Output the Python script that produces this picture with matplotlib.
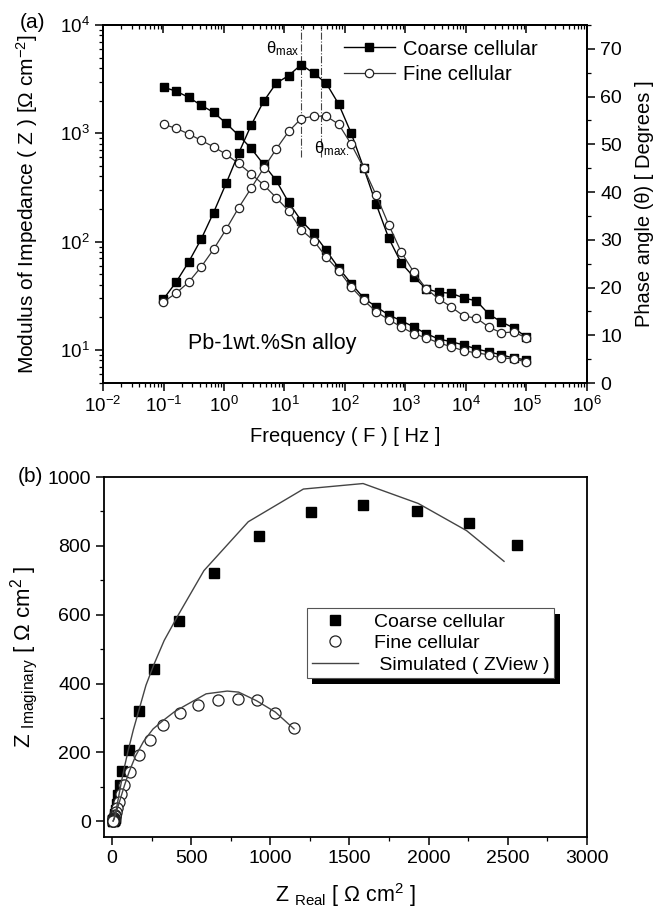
import numpy as np
import matplotlib
matplotlib.use('Agg')
import matplotlib.pyplot as plt
import matplotlib.patheffects as pe
from matplotlib.ticker import MultipleLocator, LogLocator, NullFormatter

plt.rcParams['font.family'] = ['Liberation Sans', 'DejaVu Sans']
plt.rcParams['mathtext.default'] = 'regular'
plt.rcParams['font.size'] = 13.5

# (a) Bode data, frequency in Hz (low -> high)
freq = [0.1, 0.161, 0.259, 0.418, 0.672, 1.083, 1.743, 2.807, 4.52, 7.279,
        11.72, 18.87, 30.39, 48.94, 78.8, 126.9, 204.3, 329, 530, 853,
        1374, 2212, 3562, 5736, 9237, 14874, 23950, 38570, 62110, 100000]
coarse_mod = [2667, 2449, 2154, 1815, 1563, 1238, 958, 726, 516, 367,
              230, 156, 119, 83, 57, 41, 30, 25, 21, 18.6,
              16.3, 14.1, 12.6, 11.9, 11.1, 10.2, 9.6, 9.0, 8.4, 8.1]
fine_mod = [1211, 1112, 989, 861, 750, 640, 527, 422, 334, 255,
            192, 129, 102, 72, 54, 38, 28.7, 22.5, 19, 16.3,
            14.1, 12.9, 11.6, 10.7, 9.8, 9.4, 9.0, 8.4, 8.3, 7.7]
coarse_phase = [17.6, 21.1, 25.3, 30.1, 35.7, 41.8, 48.1, 54.0, 59.0, 62.8,
                64.4, 66.7, 64.9, 62.8, 58.4, 52.3, 45.0, 37.4, 30.3, 25.1,
                22.2, 19.7, 19.0, 18.8, 17.8, 17.2, 14.4, 12.8, 11.5, 9.6]
fine_phase = [17.0, 18.8, 21.1, 24.3, 28.0, 32.2, 36.7, 40.8, 45.0, 49.0,
              52.7, 55.4, 55.9, 55.9, 54.2, 50.0, 45.0, 39.3, 33.1, 27.4,
              23.2, 19.7, 17.6, 15.9, 14.0, 13.6, 11.7, 10.5, 10.7, 9.4]
theta_max_freq = [18.87, 40.0]

# (b) Nyquist data
coarse_re = [2557, 2257, 1925, 1588, 1255, 929, 646, 423, 265, 172,
             106, 66, 53, 40, 31, 25, 21, 19.5, 18, 16.8,
             15.1, 13.3, 11.9, 11.3, 10.6, 9.7, 9.3, 8.8, 8.2, 8.0]
coarse_im = [803, 865, 902, 919, 897, 829, 720, 582, 443, 320,
             208, 145, 106, 75, 49, 32, 21, 15, 10.6, 7.9,
             6.2, 4.8, 4.1, 3.8, 3.4, 3.0, 2.4, 2.0, 1.7, 1.3]
fine_re = [1151, 1032, 913, 794, 667, 542, 429, 325, 238, 172,
           114, 79, 58, 44, 33, 26, 21, 18, 16, 14.5,
           13, 12, 11, 10.3, 9.6, 9.2, 8.8, 8.3, 8.1, 7.6]
fine_im = [271, 315, 353, 356, 353, 338, 314, 278, 237, 191,
           143, 106, 78, 55, 38, 27, 19, 14, 10.5, 8,
           6.5, 5.2, 4.3, 3.6, 2.9, 2.6, 2.2, 1.8, 1.6, 1.3]
sim_coarse_re = [7.5, 9, 12, 16, 22, 30, 42, 58, 78, 100, 135, 172, 215, 265,
                 330, 420, 581, 861, 1209, 1586, 1935, 2240, 2476]
sim_coarse_im = [0.5, 2, 5, 11, 22, 40, 70, 110, 155, 200, 265, 325, 395, 455,
                 525, 600, 728, 870, 965, 981, 923, 844, 755]
sim_fine_re = [7.5, 9, 12, 16, 22, 30, 42, 58, 80, 110, 150, 200, 260, 325,
               395, 463, 595, 728, 800, 913, 1032, 1150]
sim_fine_im = [0.5, 2, 5, 10, 18, 30, 48, 72, 105, 145, 190, 232, 268, 293,
               318, 336, 370, 378, 375, 350, 317, 268]

W, H = 657, 909
fig = plt.figure(figsize=(W / 100, H / 100), dpi=100)

# ---------- panel (a) ----------
ax = fig.add_axes([103 / W, 1 - 383 / H, 484 / W, 358 / H])
ax2 = ax.twinx()

ax.plot(freq, coarse_mod, '-s', color='black', lw=1.0, ms=5.5, mfc='black', mec='black')
ax.plot(freq, fine_mod, '-o', color='#333333', lw=0.9, ms=6, mfc='white', mec='#222222', mew=0.9)
l1, = ax2.plot(freq, coarse_phase, '-s', color='black', lw=1.0, ms=5.5, mfc='black', mec='black')
l2, = ax2.plot(freq, fine_phase, '-o', color='#333333', lw=0.9, ms=6, mfc='white', mec='#222222', mew=0.9)

ax.set_xscale('log')
ax.set_yscale('log')
ax.set_xlim(1e-2, 1e6)
ax.set_ylim(4.95, 1e4)
ax2.set_ylim(0, 75)
ax2.yaxis.set_major_locator(MultipleLocator(10))
ax2.yaxis.set_minor_locator(MultipleLocator(5))
ax.xaxis.set_major_locator(LogLocator(base=10, numticks=12))
ax.xaxis.set_minor_locator(LogLocator(base=10, subs=np.arange(2, 10), numticks=12))
ax.xaxis.set_minor_formatter(NullFormatter())
ax.yaxis.set_minor_locator(LogLocator(base=10, subs=np.arange(2, 10), numticks=12))
ax.yaxis.set_minor_formatter(NullFormatter())

for a in (ax, ax2):
    for s in a.spines.values():
        s.set_linewidth(1.3)
ax.tick_params(which='major', direction='out', length=6, width=1.1, labelsize=13.5)
ax.tick_params(which='minor', direction='out', length=3, width=0.9)
ax2.tick_params(which='major', direction='out', length=6, width=1.1, labelsize=14)
ax2.tick_params(which='minor', direction='out', length=3, width=0.9)

sec = ax.secondary_xaxis('top')
sec.xaxis.set_major_locator(LogLocator(base=10, numticks=12))
sec.xaxis.set_minor_locator(LogLocator(base=10, subs=np.arange(2, 10), numticks=12))
sec.tick_params(which='major', direction='in', length=6, width=1.1, labeltop=False)
sec.tick_params(which='minor', direction='in', length=3, width=0.9)
sec.xaxis.set_minor_formatter(NullFormatter())
sec.spines['top'].set_linewidth(1.3)

ax.set_xlabel('Frequency ( F ) [ Hz ]', fontsize=14.5, labelpad=8)
ax.set_ylabel('Modulus of Impedance ( Z ) [Ω cm$^{-2}$]', fontsize=15, labelpad=14)
ax2.set_ylabel('Phase angle (θ) [ Degrees ]', fontsize=14.5, labelpad=9)

# theta max markers
for f in theta_max_freq:
    ax.plot([f, f], [600, 1e4], color='#444444', lw=0.8, ls='-.')
ax.text(17.4, 6000, 'θ$_{max}$', ha='right', va='center', fontsize=12)
ax.text(31, 720, 'θ$_{max.}$', ha='left', va='center', fontsize=12)

ax.text(0.25, 11.5, 'Pb-1wt.%Sn alloy', ha='left', va='center', fontsize=15.5)

ax2.legend([l1, l2], ['Coarse cellular', 'Fine cellular'], loc='upper right',
           bbox_to_anchor=(0.935, 1.01), frameon=False, numpoints=1,
           handlelength=2.5, handletextpad=0.4, labelspacing=0.3, fontsize=14.5)

fig.text(20 / W, 1 - 22 / H, '(a)', fontsize=15, ha='left', va='center')

# ---------- panel (b) ----------
bx = fig.add_axes([104 / W, 1 - 837 / H, 483 / W, 360 / H])
h1, = bx.plot(coarse_re, coarse_im, 's', color='black', ms=7, ls='none')
h2, = bx.plot(fine_re, fine_im, 'o', mfc='white', mec='#222222', ms=8, mew=0.9, ls='none')
h3, = bx.plot(sim_coarse_re, sim_coarse_im, '-', color='#444444', lw=1.0)
bx.plot(sim_fine_re, sim_fine_im, '-', color='#444444', lw=1.0)

bx.set_xlim(-50, 3000)
bx.set_ylim(-46, 1000)
bx.xaxis.set_major_locator(MultipleLocator(500))
bx.xaxis.set_minor_locator(MultipleLocator(250))
bx.yaxis.set_major_locator(MultipleLocator(200))
bx.yaxis.set_minor_locator(MultipleLocator(100))
for s in bx.spines.values():
    s.set_linewidth(1.3)
bx.tick_params(which='major', direction='out', length=6, width=1.1, labelsize=14)
bx.tick_params(which='minor', direction='out', length=3, width=0.9)

bx.set_xlabel('Z $_{\\mathregular{Real}}$ [ Ω cm$^{2}$ ]', fontsize=15.5, labelpad=10)
bx.set_ylabel('Z $_{\\mathregular{Imaginary}}$ [ Ω cm$^{2}$ ]', fontsize=16, labelpad=5)

leg = bx.legend([h1, h2, h3], ['Coarse cellular', 'Fine cellular', ' Simulated ( ZView )'],
                loc='upper left', bbox_to_anchor=(0.42, 0.636), borderaxespad=0,
                fancybox=False, numpoints=1, handlelength=2.4, labelspacing=0.2,
                fontsize=14, borderpad=0.25)
frame = leg.get_frame()
frame.set_edgecolor('#555555')
frame.set_linewidth(0.8)
frame.set_alpha(1)
frame.set_path_effects([pe.SimplePatchShadow(offset=(4, -4), shadow_rgbFace='black', alpha=1.0),
                        pe.Normal()])

fig.text(18 / W, 1 - 477 / H, '(b)', fontsize=15, ha='left', va='center')

fig.savefig('out.png', dpi=100)
